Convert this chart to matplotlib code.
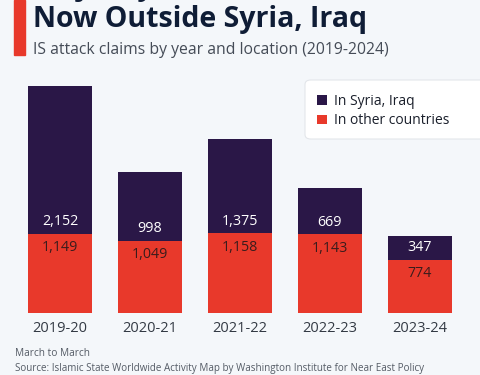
import matplotlib
matplotlib.use("Agg")
import matplotlib.pyplot as plt
from matplotlib.patches import Rectangle, FancyBboxPatch

# data
years = ["2019-20", "2020-21", "2021-22", "2022-23", "2023-24"]
syria_iraq = [2152, 998, 1375, 669, 347]
other = [1149, 1049, 1158, 1143, 774]

dark = "#2a1747"
red = "#e8392b"
bg = "#f4f7fa"

plt.rcParams['font.family'] = ['Open Sans', 'DejaVu Sans']

W, H = 480, 375
fig = plt.figure(figsize=(W / 100, H / 100), dpi=100, facecolor=bg)

def fx(px):
    return px / W

def fy(py):
    return 1 - py / H

# red accent bar at the top left
fig.patches.append(Rectangle((fx(14), fy(55)), fx(11), 55 / H, transform=fig.transFigure,
                             color=red, zorder=1))

# title (first line cut off by the frame) and subtitle
fig.text(fx(33), fy(-13), "Majority of IS Attacks", fontsize=20.5, fontweight="bold",
         color="#0f1d36", va="center", ha="left")
fig.text(fx(33), fy(20), "Now Outside Syria, Iraq", fontsize=20.5, fontweight="bold",
         color="#0f1d36", va="center", ha="left")
fig.text(fx(33), fy(50), "IS attack claims by year and location (2019-2024)", fontsize=11.3,
         color="#454c57", va="center", ha="left")

# plot area
ax = fig.add_axes([fx(15), fy(313), fx(450), (313 - 80) / H])
ax.set_facecolor(bg)
x = list(range(len(years)))
bw = 64 / 90
b1 = ax.bar(x, other, width=bw, color=red, label="In other countries", zorder=2)
b2 = ax.bar(x, syria_iraq, width=bw, bottom=other, color=dark, label="In Syria, Iraq", zorder=2)
ax.set_xlim(-0.5, 4.5)
ax.set_ylim(0, 3301 * 233 / 227)

for i in x:
    ax.annotate(f"{syria_iraq[i]:,}", (i, other[i]), xytext=(0, 12), textcoords="offset pixels",
                ha="center", va="center", color="white", fontsize=10.3)
    ax.annotate(f"{other[i]:,}", (i, other[i]), xytext=(0, -14), textcoords="offset pixels",
                ha="center", va="center", color="#3a1c1c", fontsize=10.3)

ax.set_xticks(x)
ax.set_xticklabels(years, fontsize=10.5, color="#333a44")
ax.tick_params(axis="x", length=0, pad=6)
ax.set_yticks([])
for s in ax.spines.values():
    s.set_visible(False)

# legend box, running off the right edge
box = FancyBboxPatch((fx(305), fy(139)), fx(185), 59 / H,
                     boxstyle="round,pad=0,rounding_size=0.012",
                     transform=fig.transFigure, facecolor="white",
                     edgecolor="#e3e6ea", linewidth=0.8, zorder=3, clip_on=False)
ax.add_patch(box)
leg = ax.legend(handles=[b2, b1], loc="upper left", bbox_to_anchor=(fx(313), fy(90)),
                bbox_transform=fig.transFigure, frameon=False,
                fontsize=10, handlelength=0.7, handleheight=0.7, handletextpad=0.5,
                borderpad=0.3, labelspacing=0.3, borderaxespad=0)
leg.set_zorder(5)
for t in leg.get_texts():
    t.set_color("#1a1f2b")

# footer
fig.text(fx(15), fy(354), "March to March", fontsize=7.3, color="#555c66", va="center")
fig.text(fx(15), fy(369), "Source: Islamic State Worldwide Activity Map by Washington Institute for Near East Policy",
         fontsize=7.1, color="#555c66", va="center")

fig.savefig("out.png", dpi=100, facecolor=bg)
